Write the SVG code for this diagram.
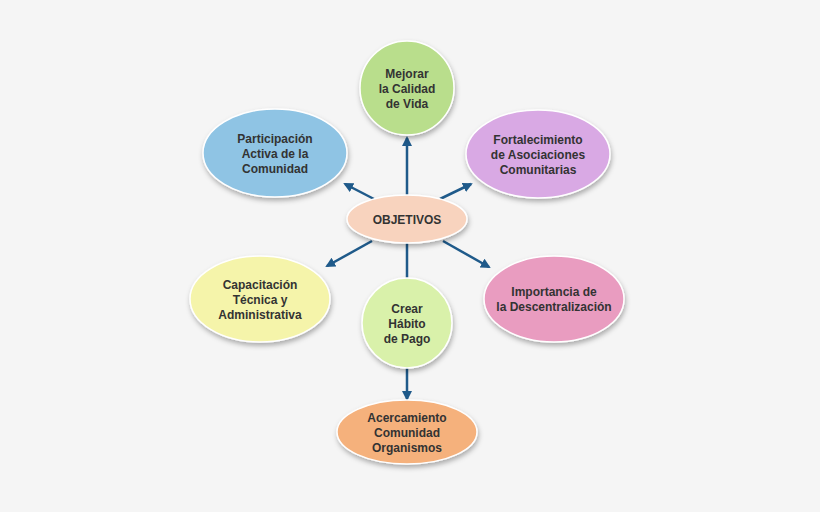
<svg xmlns="http://www.w3.org/2000/svg" width="820" height="512" viewBox="0 0 820 512">
<defs>
<style>
text{font-family:"Liberation Sans",Arial,sans-serif;font-size:12px;font-weight:bold;fill:#333;text-anchor:middle}
.n{stroke:#fff;stroke-width:1.5;filter:url(#sh)}
.c{stroke:#1f5a8a;stroke-width:2.5;fill:none}
</style>
<filter id="sh" x="-20%" y="-20%" width="140%" height="150%"><feDropShadow dx="1" dy="3" stdDeviation="2.5" flood-color="#000" flood-opacity="0.3"/></filter>
<marker id="ah" viewBox="0 0 10 10" refX="8" refY="5" markerWidth="4" markerHeight="4" orient="auto"><path d="M0,0L10,5L0,10z" fill="#1f5a8a"/></marker>
</defs>
<rect width="820" height="512" fill="#f5f5f5"/>
<g id="connectors">
<line class="c" x1="407" y1="195" x2="407" y2="138" marker-end="url(#ah)"/>
<line class="c" x1="374" y1="199" x2="345" y2="184" marker-end="url(#ah)"/>
<line class="c" x1="440" y1="199" x2="471" y2="184" marker-end="url(#ah)"/>
<line class="c" x1="372" y1="241" x2="327" y2="266" marker-end="url(#ah)"/>
<line class="c" x1="443" y1="241" x2="489" y2="267" marker-end="url(#ah)"/>
<line class="c" x1="407" y1="243" x2="407" y2="278"/>
<line class="c" x1="407" y1="368" x2="407" y2="399" marker-end="url(#ah)"/>
</g>
<g id="n-mejorar"><ellipse class="n" cx="407" cy="88" rx="47" ry="47" fill="#b9de8c"/><text x="407" y="78">Mejorar</text><text x="407" y="93">la Calidad</text><text x="407" y="108">de Vida</text></g>
<g id="n-participacion"><ellipse class="n" cx="275" cy="153" rx="72" ry="44" fill="#8fc4e4"/><text x="275" y="143">Participación</text><text x="275" y="158">Activa de la</text><text x="275" y="173">Comunidad</text></g>
<g id="n-fortalecimiento"><ellipse class="n" cx="538" cy="154" rx="72" ry="44" fill="#d9a9e4"/><text x="538" y="144">Fortalecimiento</text><text x="538" y="159">de Asociaciones</text><text x="538" y="174">Comunitarias</text></g>
<g id="n-objetivos"><ellipse class="n" cx="407" cy="219" rx="60" ry="24" fill="#f8d3be"/><text x="407" y="224">OBJETIVOS</text></g>
<g id="n-capacitacion"><ellipse class="n" cx="260" cy="299" rx="70" ry="43" fill="#f5f4aa"/><text x="260" y="289">Capacitación</text><text x="260" y="304">Técnica y</text><text x="260" y="319">Administrativa</text></g>
<g id="n-crear"><ellipse class="n" cx="407" cy="323" rx="45" ry="45" fill="#d9f1aa"/><text x="407" y="313">Crear</text><text x="407" y="328">Hábito</text><text x="407" y="343">de Pago</text></g>
<g id="n-importancia"><ellipse class="n" cx="554" cy="299" rx="70" ry="43" fill="#e99cc0"/><text x="554" y="296">Importancia de</text><text x="554" y="311">la Descentralización</text></g>
<g id="n-acercamiento"><ellipse class="n" cx="407" cy="432" rx="70" ry="32" fill="#f5b17c"/><text x="407" y="422">Acercamiento</text><text x="407" y="437">Comunidad</text><text x="407" y="452">Organismos</text></g>
</svg>
